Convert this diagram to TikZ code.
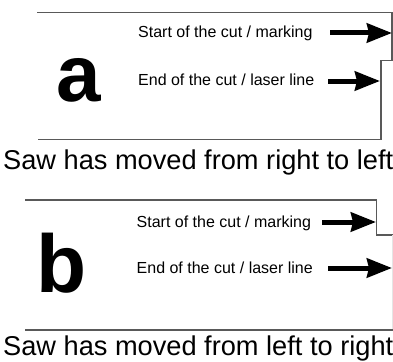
\documentclass[tikz,border=0pt]{standalone}
\usepackage{fontspec}
\setmainfont{Liberation Sans}
\usetikzlibrary{arrows.meta}
\begin{document}
\begin{tikzpicture}[x=1pt,y=-1pt,
  outline/.style={draw=black!65,line width=1.3pt},
  faint/.style={draw=black!10,line width=1pt},
  label/.style={anchor=base west,inner sep=0pt,font=\fontsize{16}{18}\selectfont},
  caption/.style={anchor=base west,inner sep=0pt,font=\fontsize{27.2}{30}\selectfont},
  letter/.style={anchor=base west,inner sep=0pt,font=\bfseries},
  pointer/.style={line width=5pt,-{Stealth[length=25pt 0 0,width=19pt 0 0,inset=2pt 0]}}]
\useasboundingbox (0,0) rectangle (393,361);
% panel a
\draw[outline] (37,12.7) -- (392,12.7) -- (392,60.5) -- (381,60.5) -- (381,139.5) -- (38,139.5);
\node[letter,font=\bfseries\fontsize{80}{80}\selectfont] (la) at (56,101) {a};
\node[label] (a1) at (138,37.5) {Start of the cut / marking};
\node[label] (a2) at (138,85) {End of the cut / laser line};
\coordinate (a1s) at (330,33);
\coordinate (a1e) at (392,33);
\coordinate (a2s) at (328,81);
\coordinate (a2e) at (380,81);
\draw[pointer] (a1s) -- (a1e);
\draw[pointer] (a2s) -- (a2e);
\node[caption] (ca) at (3,169.5) {Saw has moved from right to left};
% panel b
\draw[outline] (25,200) -- (376.5,200) -- (376.5,235) -- (393,235);
\draw[faint] (392,235) -- (392,330);
\draw[outline] (25,330) -- (393,330);
\node[letter,font=\bfseries\fontsize{82}{82}\selectfont] (lb) at (36,292) {b};
\node[label] (b1) at (136.5,227.5) {Start of the cut / marking};
\node[label] (b2) at (136.5,273.5) {End of the cut / laser line};
\coordinate (b1s) at (322,222);
\coordinate (b1e) at (376,222);
\coordinate (b2s) at (328,268);
\coordinate (b2e) at (392,268);
\draw[pointer] (b1s) -- (b1e);
\draw[pointer] (b2s) -- (b2e);
\node[caption] (cb) at (3,355.3) {Saw has moved from left to right};
\end{tikzpicture}
\end{document}
